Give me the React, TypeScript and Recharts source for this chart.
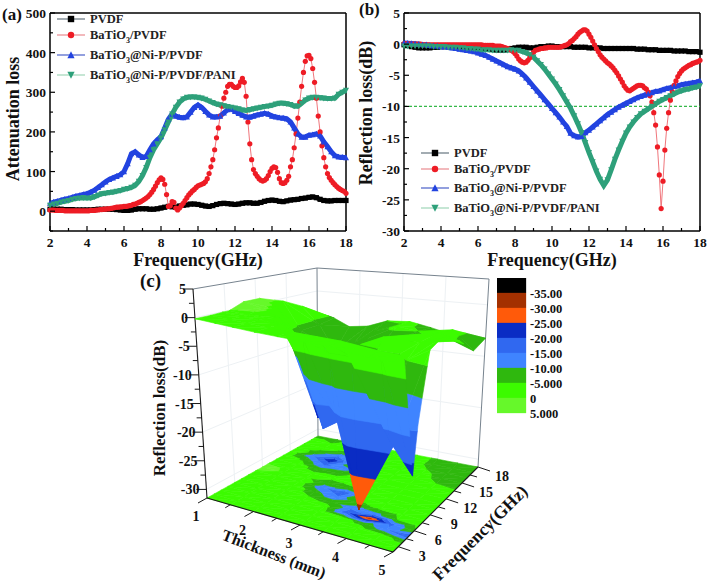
import React from "react";
import {
  LineChart,
  Line,
  XAxis,
  YAxis,
  ReferenceLine,
  Legend,
  ScatterChart,
  Scatter,
} from "recharts";

const SERIF = "'Liberation Serif', 'Times New Roman', serif";

// (a) attenuation loss. Coarse series step 0.2 GHz, red series step 0.1 GHz, one row per GHz
const attPvdf = [
  5, 5, 5, 5, 4,
  4, 4, 3, 3, 3,
  3, 3, 4, 5, 5,
  5, 5, 5, 4, 3,
  2, 2, 3, 5, 6,
  6, 6, 5, 5, 6,
  8, 10, 12, 11, 10,
  13, 15, 16, 18, 18,
  17, 15, 13, 12, 14,
  17, 19, 20, 19, 18,
  17, 18, 20, 21, 21,
  20, 20, 22, 25, 27,
  28, 27, 25, 24, 26,
  28, 29, 30, 32, 33,
  35, 36, 34, 30, 27,
  26, 26, 27, 27, 27,
  27,
];
const attBaTiO3 = [
  3, 3, 3, 2, 2, 2, 2, 2, 1, 1,
  1, 1, 1, 1, 1, 1, 1, 1, 1, 1,
  1, 1, 2, 2, 2, 3, 3, 4, 4, 5,
  5, 6, 6, 7, 8, 9, 10, 10, 11, 11,
  12, 12, 13, 14, 15, 17, 18, 20, 22, 24,
  27, 30, 33, 37, 42, 48, 55, 63, 72, 79,
  84, 80, 68, 42, 12, 14, 24, 22, 8, 3,
  8, 14, 20, 27, 34, 41, 46, 51, 55, 60,
  64, 66, 68, 70, 74, 82, 95, 112, 130, 155,
  185, 210, 240, 265, 285, 300, 315, 320, 320, 315,
  312, 312, 316, 326, 335, 325, 290, 225, 170, 130,
  105, 95, 88, 82, 78, 76, 78, 82, 90, 100,
  108, 112, 110, 98, 82, 72, 70, 72, 78, 88,
  112, 130, 160, 195, 235, 275, 315, 350, 378, 392,
  393, 385, 360, 325, 285, 240, 200, 165, 135, 112,
  95, 85, 78, 72, 67, 62, 58, 55, 52, 50,
  45,
];
const attNiP = [
  20, 23, 25, 28, 30,
  32, 35, 38, 40, 42,
  44, 48, 53, 60, 67,
  74, 80, 84, 88, 92,
  100, 120, 145, 150, 142,
  136, 138, 155, 170, 180,
  188, 210, 232, 245, 240,
  237, 236, 238, 250, 262,
  268, 262, 252, 243, 238,
  238, 240, 248, 256, 258,
  252, 247, 242, 238, 237,
  240, 243, 245, 247, 245,
  240, 238, 236, 235, 233,
  225, 210, 195, 187, 187,
  192, 193, 195, 190, 175,
  163, 150, 140, 137, 136,
  135,
];
const attPani = [
  15, 18, 20, 23, 25,
  27, 30, 32, 33, 34,
  33, 33, 36, 40, 44,
  45, 47, 48, 50, 52,
  55, 57, 60, 65, 75,
  90, 110, 135, 155, 170,
  185, 205, 225, 245, 262,
  275, 283, 287, 288, 288,
  287, 285, 282, 278, 274,
  270, 268, 266, 264, 262,
  260, 258, 255, 254, 256,
  258, 260, 262, 264, 265,
  267, 270, 272, 272, 271,
  269, 265, 265, 272, 280,
  285, 287, 287, 286, 285,
  284, 284, 285, 295, 300,
  305,
];

// (b) reflection loss
const rlPvdf = [
  -0.1, -0.2, -0.4, -0.5, -0.6,
  -0.6, -0.6, -0.6, -0.5, -0.5,
  -0.4, -0.4, -0.3, -0.3, -0.3,
  -0.3, -0.3, -0.4, -0.4, -0.4,
  -0.5, -0.5, -0.6, -0.7, -0.8,
  -0.9, -0.9, -0.9, -0.8, -0.7,
  -0.6, -0.5, -0.5, -0.5, -0.6,
  -0.6, -0.5, -0.4, -0.4, -0.3,
  -0.3, -0.4, -0.4, -0.4, -0.4,
  -0.4, -0.5, -0.5, -0.5, -0.5,
  -0.6, -0.6, -0.6, -0.6, -0.7,
  -0.7, -0.7, -0.7, -0.7, -0.7,
  -0.7, -0.7, -0.7, -0.8, -0.8,
  -0.8, -0.9, -0.9, -0.9, -1,
  -1, -1, -1, -1.1, -1.1,
  -1.1, -1.1, -1.2, -1.2, -1.2,
  -1.3,
];
const rlBaTiO3 = [
  0.1, 0.1, 0.1, 0, 0, 0, 0, 0, 0, 0,
  -0.1, -0.1, -0.1, -0.1, -0.1, -0.1, -0.1, -0.1, -0.1, -0.1,
  -0.1, -0.1, -0.1, -0.1, -0.1, -0.1, -0.1, -0.1, -0.1, -0.1,
  -0.1, -0.1, -0.1, -0.1, -0.1, -0.1, -0.1, -0.1, -0.1, -0.1,
  -0.1, -0.1, -0.1, -0.2, -0.2, -0.2, -0.2, -0.2, -0.2, -0.3,
  -0.3, -0.3, -0.3, -0.4, -0.5, -0.6, -0.7, -0.8, -1, -1.2,
  -1.5, -1.9, -2.4, -2.7, -2.9, -3, -2.9, -2.6, -2.2, -1.7,
  -1.3, -1, -0.9, -0.8, -0.7, -0.7, -0.6, -0.6, -0.5, -0.5,
  -0.5, -0.5, -0.5, -0.5, -0.5, -0.4, -0.3, -0.2, -0.1, 0.1,
  0.4, 0.6, 0.9, 1.2, 1.6, 1.9, 2.1, 2.3, 2.3, 2.1,
  1.6, 1.1, 0.5, -0.1, -0.7, -1.2, -1.7, -2.1, -2.4, -2.7,
  -3, -3.2, -3.5, -3.8, -4.2, -4.6, -5.1, -5.6, -6.1, -6.7,
  -7.1, -7.4, -7.5, -7.3, -7.1, -6.9, -6.7, -6.6, -6.6, -6.7,
  -7, -7.2, -7.7, -8.3, -9.3, -11, -13, -16.5, -21, -26.4,
  -22, -17, -13.5, -11, -9, -7.6, -6.6, -5.9, -5.2, -4.7,
  -4.3, -4, -3.8, -3.6, -3.4, -3.3, -3.1, -3, -2.9, -2.8,
  -2.6,
];
const rlNiP = [
  0.2, 0.15, 0.1, 0.05, 0,
  -0.1, -0.1, -0.2, -0.3, -0.3,
  -0.4, -0.4, -0.5, -0.6, -0.7,
  -0.8, -0.9, -1, -1.1, -1.2,
  -1.4, -1.6, -1.8, -2.1, -2.4,
  -2.7, -3, -3.3, -3.6, -3.8,
  -4, -4.3, -4.8, -5.4, -6.1,
  -6.8, -7.5, -8.2, -8.9, -9.6,
  -10.3, -11, -11.7, -12.5, -13.2,
  -14.3, -14.7, -14.9, -14.8, -14.2,
  -13.8, -13.3, -12.8, -12.3, -11.8,
  -11.3, -10.9, -10.5, -10.1, -9.8,
  -9.5, -9.2, -8.9, -8.6, -8.4,
  -8.2, -8, -7.8, -7.6, -7.5,
  -7.3, -7.1, -7, -6.8, -6.7,
  -6.5, -6.4, -6.3, -6.2, -6.1,
  -5.9,
];
const rlPani = [
  -0.3, -0.3, -0.3, -0.3, -0.3,
  -0.3, -0.3, -0.3, -0.4, -0.4,
  -0.4, -0.4, -0.5, -0.5, -0.5,
  -0.6, -0.6, -0.7, -0.7, -0.8,
  -0.8, -0.9, -0.9, -0.9, -1,
  -1, -1, -1, -1, -0.9,
  -1, -1, -1.2, -1.4, -1.7,
  -2.1, -2.7, -3.3, -4, -4.8,
  -5.6, -6.4, -7.3, -8.3, -9.3,
  -10.3, -11.5, -12.8, -14.2, -15.8,
  -17.4, -18.9, -20.4, -21.7, -22.7,
  -21.8, -20.2, -18.5, -17, -15.6,
  -14.3, -13.3, -12.5, -11.8, -11.2,
  -10.8, -10.4, -10, -9.6, -9.2,
  -8.9, -8.6, -8.3, -8, -7.7,
  -7.5, -7.3, -7.2, -7, -6.9,
  -6.7,
];

// (c) surface: one row per thickness, one column per frequency
const thicknesses = [1, 1.4, 1.76, 2.2, 2.66, 3.2, 3.7, 4.5, 5];
const surfaceFreqs = [2, 4, 5.6, 6.5, 8.4, 10.5, 13.5, 16, 18];
const surfaceRL = [
  [-0.2, -0.2, -0.1, -0.1, 1, 1, -0.5, -2.5, -4.8],
  [-0.3, -0.3, -0.3, -0.3, 0.3, -0.5, -6, -6, -5.5],
  [-0.4, -0.4, -0.4, -0.4, -1, -5, -23, -11, -7],
  [-0.5, -0.5, -0.5, -1, -6, -8, -14, -9, -6.5],
  [-0.5, -0.5, -2, -10, -20, -8, -7, -6, -5],
  [-0.5, -0.5, -4, -15, -17, -5, -7, -4.5, -4.7],
  [-0.5, -0.5, -4, -31, -8, -3, -6, -5, -5.5],
  [-1, -1, -17, -18, -5, -3, -3, -4, -7],
  [-1, -1, -22, -14, -2.5, -1.5, -4, -7.5, -6.5],
];

// contour map on the floor of the box
const floorThicknesses = [1, 1.5, 2, 2.5, 3, 3.5, 4, 4.5, 5];
const floorFreqs = [2, 3, 4, 5, 6, 7, 8, 9, 10, 11, 12, 13, 14, 15, 16, 17, 18];
const floorRL = [
  [-1, -1, -1, -1, -1, -0.5, -0.5, -0.5, 1.5, -0.5, -0.5, -1, -1, -2, -3, -4, -6],
  [-1, -1, -1, -1, -1, -0.5, -0.5, -0.5, -0.5, -1, -2, -6, -13, -7, -3, -5, -6],
  [-1, -1, -1, -1, -1, -1, -1, -2, -4, -4, -8, -16, -24, -15, -6, -3, -4],
  [-1, -1, -1, -1, -2, -5, -8, -13, -8, -4, -6, -12, -7, -4, -3, -3, -4],
  [-1, -1, -1, -1, -3, -7, -14, -19, -7, -3, -3, -4, -3, -2, -2, -3, -3],
  [-1, -1, -1, -3, -18, -14, -6, -3, -2, -2, -2, -2, -2, -2, -3, -3, -3],
  [-1, -1, -2, -7, -32, -12, -4, -2, -2, -2, -2, -2, -2, -3, -5, -6, -6],
  [-1, -1, -3, -14, -16, -5, -3, -2, -2, -2, -2, -2, -5, -7, -8, -7, -7],
  [-1, -2, -7, -20, -6, -3, -2, -2, -2, -2, -2, -3, -6, -8, -8, -7, -7],
];

const bandLevels = [-40, -35, -30, -25, -20, -15, -10, -5, 0, 5];
const bandColors = ["#000000", "#a33000", "#ff5a0a", "#0a2cc4", "#3068f0", "#3f84ff", "#2fb80e", "#3cfb00", "#66f82a"];
const legendTicks = [-35, -30, -25, -20, -15, -10, -5, 0, 5];
const zTicks = [5, 0, -5, -10, -15, -20, -25, -30];
const thicknessTicks = [1, 2, 3, 4, 5];
const freqTicks3d = [3, 6, 9, 12, 15, 18];

const freqTicks = [2, 3, 4, 5, 6, 7, 8, 9, 10, 11, 12, 13, 14, 15, 16, 17, 18];
const attTicks = [-50, 0, 50, 100, 150, 200, 250, 300, 350, 400, 450, 500];
const rlTicks = [-30, -27.5, -25, -22.5, -20, -17.5, -15, -12.5, -10, -7.5, -5, -2.5, 0, 2.5, 5];

const COLORS = { pvdf: "#000000", bt: "#ee1c25", nip: "#2243e0", pani: "#2ea07a" };
const LEGEND_LINES = { pvdf: "#66757f", bt: "#e98a8f", nip: "#4a60c8", pani: "#9fd6b8" };

const toSeries = (values: number[], step: number) =>
  values.map((v, i) => ({ f: 2 + i * step, v }));

function Marker({ kind, cx, cy, big }: { kind: string; cx: number; cy: number; big?: boolean }) {
  const s = big ? 3.2 : 2.6;
  if (kind === "pvdf") return <rect x={cx - s} y={cy - s} width={s * 2} height={s * 2} fill={COLORS.pvdf} />;
  if (kind === "bt") return <circle cx={cx} cy={cy} r={s} fill={COLORS.bt} />;
  if (kind === "nip")
    return <polygon points={`${cx},${cy - s - 0.6} ${cx - s - 0.4},${cy + s} ${cx + s + 0.4},${cy + s}`} fill={COLORS.nip} />;
  return <polygon points={`${cx},${cy + s + 0.6} ${cx - s - 0.4},${cy - s} ${cx + s + 0.4},${cy - s}`} fill={COLORS.pani} />;
}

const dotOf = (kind: string) => (props: any) =>
  <Marker key={props.index} kind={kind} cx={props.cx} cy={props.cy} />;

const legendRows = [
  { kind: "pvdf", parts: ["PVDF"] },
  { kind: "bt", parts: ["BaTiO", "3", "/PVDF"] },
  { kind: "nip", parts: ["BaTiO", "3", "@Ni-P/PVDF"] },
  { kind: "pani", parts: ["BaTiO", "3", "@Ni-P/PVDF/PANI"] },
];

function CurveLegend({ gaps }: { gaps: number[] }) {
  return (
    <div style={{ fontFamily: SERIF, fontWeight: "bold", fontSize: 12.5, color: "#222", lineHeight: "14px" }}>
      {legendRows.map((row, i) => (
        <div key={row.kind} style={{ position: "absolute", top: gaps[i], left: 0, whiteSpace: "nowrap", display: "flex", alignItems: "center" }}>
          <svg width={33} height={14} style={{ overflow: "visible" }}>
            <line x1={0} x2={28} y1={7} y2={7} stroke={(LEGEND_LINES as any)[row.kind]} strokeWidth={1.2} />
            <Marker kind={row.kind} cx={14} cy={7} big />
          </svg>
          <span>
            {row.parts[0]}
            {row.parts[1] && <sub style={{ fontSize: 8, lineHeight: 0 }}>{row.parts[1]}</sub>}
            {row.parts[2]}
          </span>
        </div>
      ))}
    </div>
  );
}

const xTick = (props: any) => {
  const { x, y, payload } = props;
  const major = payload.value % 2 === 0;
  return (
    <g>
      <line x1={x} x2={x} y1={y - 4} y2={y - 4 - (major ? 5 : 3)} stroke="#000" strokeWidth={1.2} />
      {major && (
        <text x={x} y={y + 12} textAnchor="middle" fontFamily={SERIF} fontWeight="bold" fontSize={13.5} fill="#111">
          {payload.value}
        </text>
      )}
    </g>
  );
};

const yTick = (step: number, lowest: number | null) => (props: any) => {
  const { x, y, payload } = props;
  const major = payload.value % step === 0;
  return (
    <g>
      <line x1={x + 4} x2={x + 4 + (major ? 5 : 3)} y1={y} y2={y} stroke="#000" strokeWidth={1.2} />
      {major && payload.value !== lowest && (
        <text x={x} y={y + 5} textAnchor="end" fontFamily={SERIF} fontWeight="bold" fontSize={13.5} fill="#111">
          {payload.value}
        </text>
      )}
    </g>
  );
};

const titleStyle = { fontFamily: SERIF, fontWeight: "bold", fontSize: 18, fill: "#111" };

const sideTitle = (text: string, x: number, y: number, size: number) => () => (
  <text x={x} y={y} textAnchor="middle" fontFamily={SERIF} fontWeight="bold" fontSize={size} fill="#111" transform={`rotate(-90 ${x} ${y})`}>
    {text}
  </text>
);

function AttenuationChart() {
  return (
    <LineChart width={355} height={270} margin={{ top: 13, right: 9, bottom: 0, left: 0 }} style={{ position: "absolute", left: 0, top: 0, overflow: "visible" }}>
      <XAxis
        dataKey="f" type="number" domain={[2, 18]} ticks={freqTicks} interval={0} allowDuplicatedCategory={false}
        height={38} tickSize={0} tickMargin={4} tick={xTick} axisLine={{ stroke: "#000", strokeWidth: 1.5 }} tickLine={false}
        label={{ value: "Frequency(GHz)", position: "insideBottom", offset: 3, style: titleStyle }}
      />
      <YAxis
        domain={[-50, 500]} ticks={attTicks} interval={0} width={50} tickSize={0} tickMargin={4} tick={yTick(100, -50)}
        axisLine={{ stroke: "#000", strokeWidth: 1.5 }} tickLine={false}
        label={{ content: sideTitle("Attenuation loss", 19, 119, 18) }}
      />
      <ReferenceLine y={500} stroke="#000" strokeWidth={1.5} />
      <ReferenceLine x={18} stroke="#000" strokeWidth={1.5} />
      <Line data={toSeries(attPvdf, 0.2)} dataKey="v" stroke={COLORS.pvdf} strokeWidth={4.5} dot={dotOf("pvdf")} isAnimationActive={false} />
      <Line data={toSeries(attBaTiO3, 0.1)} dataKey="v" stroke="#f0767c" strokeWidth={1} dot={dotOf("bt")} isAnimationActive={false} />
      <Line data={toSeries(attNiP, 0.2)} dataKey="v" stroke={COLORS.nip} strokeWidth={5} dot={dotOf("nip")} isAnimationActive={false} />
      <Line data={toSeries(attPani, 0.2)} dataKey="v" stroke={COLORS.pani} strokeWidth={5} dot={dotOf("pani")} isAnimationActive={false} />
      <Legend content={() => <CurveLegend gaps={[0, 16, 36, 56]} />} wrapperStyle={{ position: "absolute", left: 57, top: 12, width: 1, height: 1, bottom: "auto" }} />
    </LineChart>
  );
}

function ReflectionChart() {
  return (
    <LineChart width={354} height={270} margin={{ top: 13, right: 9, bottom: 0, left: 0 }} style={{ position: "absolute", left: 355, top: 0, overflow: "visible" }}>
      <XAxis
        dataKey="f" type="number" domain={[2, 18]} ticks={freqTicks} interval={0} allowDuplicatedCategory={false}
        height={38} tickSize={0} tickMargin={4} tick={xTick} axisLine={{ stroke: "#000", strokeWidth: 1.5 }} tickLine={false}
        label={{ value: "Frequency(GHz)", position: "insideBottom", offset: 3, style: titleStyle }}
      />
      <YAxis
        domain={[-30, 5]} ticks={rlTicks} interval={0} width={49} tickSize={0} tickMargin={4} tick={yTick(5, null)}
        axisLine={{ stroke: "#000", strokeWidth: 1.5 }} tickLine={false}
        label={{ content: sideTitle("Reflection loss(dB)", 17, 113, 18) }}
      />
      <ReferenceLine y={5} stroke="#000" strokeWidth={1.5} />
      <ReferenceLine x={18} stroke="#000" strokeWidth={1.5} />
      <ReferenceLine y={-10} stroke="#35b84a" strokeWidth={1.3} strokeDasharray="3 2" />
      <Line data={toSeries(rlPvdf, 0.2)} dataKey="v" stroke={COLORS.pvdf} strokeWidth={4} dot={dotOf("pvdf")} isAnimationActive={false} />
      <Line data={toSeries(rlBaTiO3, 0.1)} dataKey="v" stroke="#f0767c" strokeWidth={1} dot={dotOf("bt")} isAnimationActive={false} />
      <Line data={toSeries(rlNiP, 0.2)} dataKey="v" stroke={COLORS.nip} strokeWidth={5} dot={dotOf("nip")} isAnimationActive={false} />
      <Line data={toSeries(rlPani, 0.2)} dataKey="v" stroke={COLORS.pani} strokeWidth={5} dot={dotOf("pani")} isAnimationActive={false} />
      <Legend content={() => <CurveLegend gaps={[0, 16, 35, 55]} />} wrapperStyle={{ position: "absolute", left: 66, top: 146, width: 1, height: 1, bottom: "auto" }} />
    </LineChart>
  );
}

// --- (c) 3D box projection: plot units are page pixels, the hidden axes map them 1:1
type P = { x: number; y: number };
type V = { t: number; f: number; z: number };
const Z_FLOOR = -31.5;
const baseCorners = { L: [207, 498], F: [393, 552], R: [478, 467], B: [318, 436] };
const topCorners = { L: [193, 289], F: [392, 325], R: [489, 279], B: [317, 268] };

function bilerp(c: typeof baseCorners, u: number, v: number) {
  const at = (k: 0 | 1) =>
    c.L[k] * (1 - u) * (1 - v) + c.F[k] * u * (1 - v) + c.B[k] * (1 - u) * v + c.R[k] * u * v;
  return [at(0), at(1)];
}

function project(t: number, f: number, z: number): P {
  const u = (t - 1) / 4;
  const v = (f - 2) / 16;
  const w = (z - Z_FLOOR) / (5 - Z_FLOOR);
  const b = bilerp(baseCorners, u, v);
  const a = bilerp(topCorners, u, v);
  return { x: b[0] + (a[0] - b[0]) * w, y: b[1] + (a[1] - b[1]) * w };
}

function clipAt(poly: V[], level: number, keepAbove: boolean) {
  const out: V[] = [];
  poly.forEach((p, i) => {
    const q = poly[(i + 1) % poly.length];
    const pIn = keepAbove ? p.z >= level : p.z <= level;
    const qIn = keepAbove ? q.z >= level : q.z <= level;
    if (pIn) out.push(p);
    if (pIn !== qIn) {
      const s = (level - p.z) / (q.z - p.z);
      out.push({ t: p.t + (q.t - p.t) * s, f: p.f + (q.f - p.f) * s, z: level });
    }
  });
  return out;
}

// split a grid into flat colour bands, back of the box first
function contourPolys(ts: number[], fs: number[], grid: number[][], flat: boolean) {
  const polys: { pts: P[]; color: string }[] = [];
  for (let i = 0; i < ts.length - 1; i++) {
    for (let j = fs.length - 2; j >= 0; j--) {
      const c = (a: number, b: number): V => ({ t: ts[a], f: fs[b], z: grid[a][b] });
      const tris = [
        [c(i, j), c(i + 1, j + 1), c(i, j + 1)],
        [c(i, j), c(i + 1, j), c(i + 1, j + 1)],
      ];
      tris.forEach((tri) => {
        bandColors.forEach((color, b) => {
          const piece = clipAt(clipAt(tri, bandLevels[b], true), bandLevels[b + 1], false);
          if (piece.length < 3) return;
          const pts = piece.map((p) => project(p.t, p.f, flat ? Z_FLOOR : p.z));
          polys.push({ pts: [...pts, pts[0]], color });
        });
      });
    }
  }
  return polys;
}

const segment = (a: P, b: P) => [a, b];

const wallLines = [
  ...[-30, -20, -10, 0].flatMap((z) => [
    segment(project(1, 2, z), project(1, 18, z)),
    segment(project(1, 18, z), project(5, 18, z)),
  ]),
  ...[6, 10, 14].map((f) => segment(project(1, f, Z_FLOOR), project(1, f, 5))),
  ...[2, 3, 4].map((t) => segment(project(t, 18, Z_FLOOR), project(t, 18, 5))),
];

const boxLines = [
  segment(project(1, 2, 5), project(1, 18, 5)),
  segment(project(1, 18, 5), project(5, 18, 5)),
  segment(project(1, 18, Z_FLOOR), project(1, 18, 5)),
  segment(project(5, 18, Z_FLOOR), project(5, 18, 5)),
];

const axisLines = [
  segment(project(1, 2, Z_FLOOR), project(1, 2, 5)),
  segment(project(1, 2, Z_FLOOR), project(5, 2, Z_FLOOR)),
  segment(project(5, 2, Z_FLOOR), project(5, 18, Z_FLOOR)),
];

const offset = (p: P, dx: number, dy: number): P => ({ x: p.x + dx, y: p.y + dy });

const tickLines = [
  ...[5, 2.5, 0, -2.5, -5, -7.5, -10, -12.5, -15, -17.5, -20, -22.5, -25, -27.5, -30].map((z) => {
    const p = project(1, 2, z);
    const len = z % 5 === 0 ? 10 : 5;
    return segment(p, offset(p, -len, 0));
  }),
  ...[1, 1.5, 2, 2.5, 3, 3.5, 4, 4.5, 5].map((t) => {
    const p = project(t, 2, Z_FLOOR);
    const major = t % 1 === 0;
    return segment(p, offset(p, major ? -9 : -5, major ? 5 : 3));
  }),
  ...[3, 4.5, 6, 7.5, 9, 10.5, 12, 13.5, 15, 16.5, 18].map((f) => {
    const p = project(5, f, Z_FLOOR);
    const major = f % 3 === 0;
    return segment(p, offset(p, major ? 12 : 7, major ? 4 : 2));
  }),
];

const noSymbol = () => null;

const textShape = (size: number, anchor: string, rotate = 0) => (props: any) => (
  <text
    x={props.cx}
    y={props.cy}
    textAnchor={anchor}
    fontFamily={SERIF}
    fontWeight="bold"
    fontSize={size}
    fill="#111"
    transform={rotate ? `rotate(${rotate} ${props.cx} ${props.cy})` : undefined}
  >
    {props.payload.label}
  </text>
);

const zLabels = zTicks.map((z) => ({ ...offset(project(1, 2, z), -7, 5), label: z }));
const thicknessLabels = thicknessTicks.map((t) => ({ ...offset(project(t, 2, Z_FLOOR), -11, 23), label: t }));
const freqLabels = freqTicks3d.map((f) => ({ ...offset(project(5, f, Z_FLOOR), 24, 14), label: f }));

function lineSeries(lines: P[][], stroke: string, width: number, prefix: string) {
  return lines.map((pts, i) => (
    <Scatter key={`${prefix}${i}`} data={pts} line={{ stroke, strokeWidth: width }} shape={noSymbol} isAnimationActive={false} />
  ));
}

function SurfaceChart() {
  const basePolys = contourPolys(floorThicknesses, floorFreqs, floorRL, true);
  const surfacePolys = contourPolys(thicknesses, surfaceFreqs, surfaceRL, false);
  const fillSeries = (polys: { pts: P[]; color: string }[], prefix: string) =>
    polys.map((p, i) => (
      <Scatter
        key={`${prefix}${i}`}
        data={p.pts}
        line={{ fill: p.color, stroke: p.color, strokeWidth: 0.6 }}
        shape={noSymbol}
        isAnimationActive={false}
      />
    ));
  return (
    <ScatterChart width={709} height={584} margin={{ top: 0, right: 0, bottom: 0, left: 0 }} style={{ position: "absolute", left: 0, top: 0 }}>
      <XAxis type="number" dataKey="x" domain={[0, 709]} hide />
      <YAxis type="number" dataKey="y" domain={[0, 584]} reversed hide />
      {lineSeries(wallLines, "#edf1f4", 1, "w")}
      {lineSeries(boxLines, "#77838e", 1, "b")}
      {fillSeries(basePolys, "p")}
      {lineSeries(axisLines, "#1a1a1a", 1.1, "a")}
      {lineSeries(tickLines, "#1a1a1a", 1, "t")}
      {fillSeries(surfacePolys, "s")}
      <Scatter data={zLabels} shape={textShape(14, "end")} isAnimationActive={false} />
      <Scatter data={thicknessLabels} shape={textShape(14, "middle")} isAnimationActive={false} />
      <Scatter data={freqLabels} shape={textShape(14, "middle")} isAnimationActive={false} />
      <Scatter data={[{ x: 165, y: 408, label: "Reflection loss(dB)" }]} shape={textShape(17, "middle", -90)} isAnimationActive={false} />
      <Scatter data={[{ x: 272, y: 559, label: "Thickness (mm)" }]} shape={textShape(16, "middle", 21)} isAnimationActive={false} />
      <Scatter data={[{ x: 484, y: 537, label: "Frequency(GHz)" }]} shape={textShape(17.5, "middle", -45)} isAnimationActive={false} />
      <Scatter data={[{ x: 140, y: 287, label: "(c)" }]} shape={textShape(19, "start")} isAnimationActive={false} />
      <Scatter data={[{ x: 2, y: 20, label: "(a)" }]} shape={textShape(17, "start")} isAnimationActive={false} />
      <Scatter data={[{ x: 359, y: 15, label: "(b)" }]} shape={textShape(17, "start")} isAnimationActive={false} />
    </ScatterChart>
  );
}

const legendLabel = (v: number) => {
  if (v === 0) return "0";
  if (v === 5 || v === -5) return `${v}.000`;
  return `${v}.00`;
};

function BandLegend() {
  return (
    <ScatterChart width={90} height={155} margin={{ top: 0, right: 0, bottom: 20, left: 0 }} style={{ position: "absolute", left: 497, top: 278 }}>
      <XAxis type="number" dataKey="x" domain={[0, 1]} hide />
      <YAxis
        type="number" dataKey="y" domain={[-40, 5]} reversed orientation="right" width={61}
        ticks={legendTicks} interval={0} axisLine={false} tickLine={false} tickSize={0} tickMargin={4}
        tick={(p: any) => (
          <text x={p.x} y={p.y + 5} fontFamily={SERIF} fontWeight="bold" fontSize={12.5} fill="#111">
            {legendLabel(p.payload.value)}
          </text>
        )}
      />
      {bandColors.map((color, b) => (
        <Scatter
          key={color}
          data={[
            { x: 0, y: bandLevels[b] },
            { x: 1, y: bandLevels[b] },
            { x: 1, y: bandLevels[b + 1] },
            { x: 0, y: bandLevels[b + 1] },
          ]}
          line={{ fill: color, stroke: color, strokeWidth: 0.3 }}
          shape={noSymbol}
          isAnimationActive={false}
        />
      ))}
    </ScatterChart>
  );
}

export default function App() {
  return (
    <div style={{ position: "absolute", left: 0, top: 0, width: 709, height: 584, background: "#fff", overflow: "hidden" }}>
      <SurfaceChart />
      <BandLegend />
      <AttenuationChart />
      <ReflectionChart />
    </div>
  );
}
